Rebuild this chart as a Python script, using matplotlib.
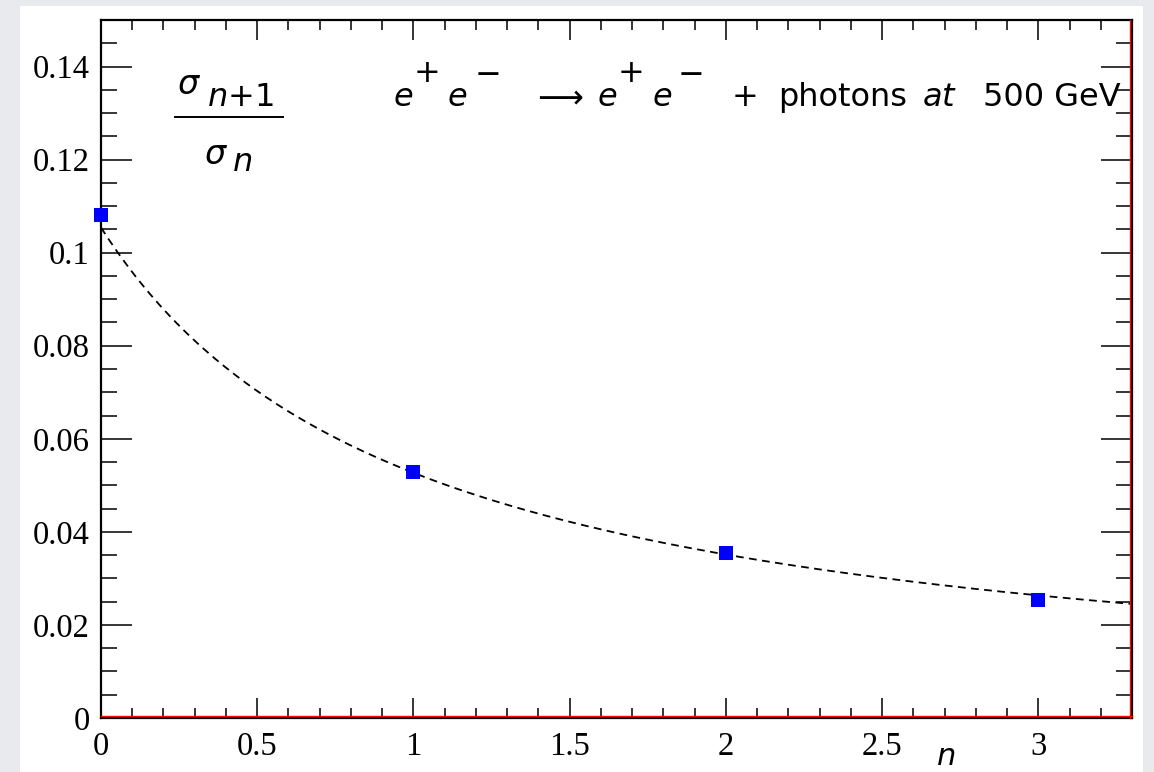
import numpy as np
import matplotlib
matplotlib.use("Agg")
import matplotlib.pyplot as plt
from matplotlib.patches import Rectangle
from matplotlib.lines import Line2D
from matplotlib.ticker import MultipleLocator

# Ratio of successive cross sections versus photon multiplicity n
n_values = [0, 1, 2, 3]
ratio_values = [0.108, 0.0528, 0.0354, 0.0253]

# Fit parameters of the dashed curve  a / (n + b)
fit_a = 0.1054
fit_b = 1.0

x_range = (0.0, 3.3)
y_range = (0.0, 0.15)
x_ticks = [0, 0.5, 1, 1.5, 2, 2.5, 3]
y_ticks = [0, 0.02, 0.04, 0.06, 0.08, 0.1, 0.12, 0.14]

plt.rcParams["mathtext.fontset"] = "dejavusans"

W, H = 1154, 772
fig = plt.figure(figsize=(W / 100, H / 100), dpi=100)
fig.patch.set_facecolor("#e9eaee")

# white canvas panel
fig.add_artist(Rectangle((20 / W, 0), (1143 - 20) / W, (H - 6) / H,
                         transform=fig.transFigure, facecolor="white",
                         edgecolor="none", zorder=0))

L, R, T, B = 101, 1132, 20, 718
ax = fig.add_axes([L / W, (H - B) / H, (R - L) / W, (B - T) / H])
ax.set_facecolor("white")
ax.set_xlim(*x_range)
ax.set_ylim(*y_range)

for s in ax.spines.values():
    s.set_linewidth(1.6)
    s.set_color("black")
    s.set_zorder(5)

# thin red frame lines just inside the bottom and right edges
ax.add_line(Line2D([0, 1], [0.003, 0.003], transform=ax.transAxes,
                   color="red", lw=1.0, zorder=6, clip_on=False))
ax.add_line(Line2D([0.998, 0.998], [0, 1], transform=ax.transAxes,
                   color="red", lw=1.0, zorder=6, clip_on=False))

ax.xaxis.set_major_locator(MultipleLocator(0.5))
ax.xaxis.set_minor_locator(MultipleLocator(0.1))
ax.yaxis.set_major_locator(MultipleLocator(0.02))
ax.yaxis.set_minor_locator(MultipleLocator(0.005))

ax.tick_params(axis="both", which="both", direction="in", top=True, right=True,
               width=1.1, color="black")
ax.tick_params(axis="x", which="major", length=14.5, pad=10)
ax.tick_params(axis="x", which="minor", length=7.2)
ax.tick_params(axis="y", which="major", length=22.5, pad=8)
ax.tick_params(axis="y", which="minor", length=11.5)


def fmt(v):
    return f"{v:.2f}".rstrip("0").rstrip(".")


ax.set_xticks(x_ticks)
ax.set_xticklabels([fmt(v) for v in x_ticks])
ax.set_yticks(y_ticks)
ax.set_yticklabels([fmt(v) for v in y_ticks])
for lab in ax.get_xticklabels() + ax.get_yticklabels():
    lab.set_fontfamily("Liberation Serif")
    lab.set_fontsize(23.5)

# fitted curve
curve_n = np.linspace(x_range[0], x_range[1], 300)
curve_y = fit_a / (curve_n + fit_b)
fit_line, = ax.plot(curve_n, curve_y, color="black", lw=1.3, zorder=3)
fit_line.set_dashes([4.3, 3.0])

# data points
ax.plot(n_values, ratio_values, linestyle="none", marker="s", markersize=10,
        color="#0000ff", markeredgewidth=0, zorder=7, clip_on=False)


def put(x, y, s, size, **kw):
    """Place text at pixel position (x, y) measured from the top-left corner."""
    kw.setdefault("ha", "left")
    kw.setdefault("va", "baseline")
    fig.text(x / W, 1 - y / H, s, fontsize=size, **kw)


# ratio label drawn as a stacked fraction
put(177, 94, r"$\sigma$", 24)
put(207, 106, r"$n\mathregular{+1}$", 23)
fig.add_artist(Line2D([175 / W, 283 / W], [1 - 117 / H, 1 - 117 / H],
                      transform=fig.transFigure, color="black", lw=1.4))
put(204, 164, r"$\sigma$", 24)
put(232, 171, r"$n$", 23)

# process label, built piece by piece
base = 106
sup = base - 24
fs = 23
put(393, base, r"$e$", fs)
put(413, sup, r"$\mathregular{+}$", fs)
put(447, base, r"$e$", fs)
put(474, sup, r"$\mathregular{-}$", fs)
put(531, base, r"$\longrightarrow$", fs)
put(597, base, r"$e$", fs)
put(617, sup, r"$\mathregular{+}$", fs)
put(652, base, r"$e$", fs)
put(677, sup, r"$\mathregular{-}$", fs)
put(731, base, r"$\mathregular{+}$", fs)
put(778, base, "photons", fs)
put(922, base, r"$at$", fs)
put(983, base, "500 GeV", fs)

# x axis title
put(946, 771, r"$n$", 22, ha="center", va="bottom")

fig.savefig("out.png", dpi=100, facecolor=fig.get_facecolor())
